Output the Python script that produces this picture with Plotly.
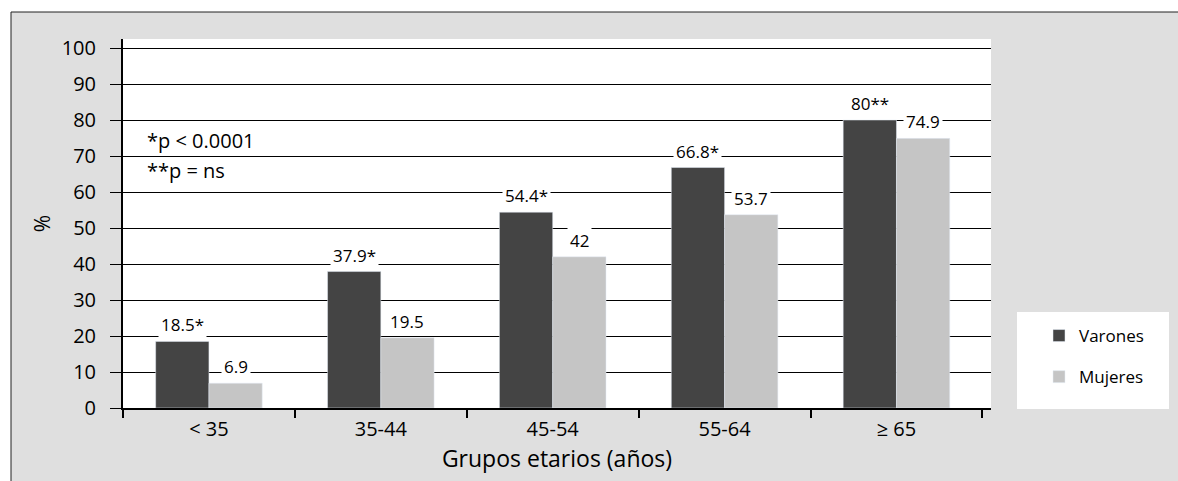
import plotly.graph_objects as go

# Datos
grupos = ['< 35', '35-44', '45-54', '55-64', '≥ 65']
varones = [18.5, 37.9, 54.4, 66.8, 80]
mujeres = [6.9, 19.5, 42, 53.7, 74.9]
sig_varones = ['*', '*', '*', '*', '**']
notas = ['*p < 0.0001', '**p = ns']

FUENTE = 'Open Sans'
GRIS_FONDO = '#dfdfdf'
OSCURO = '#444444'
CLARO = '#c5c5c5'

ANCHO, ALTO = 1178, 481
# area del grafico en pixeles: x 123..991, y 39..408
ML, MT = 123, 39
MR = ANCHO - 991
MB = ALTO - 408
W = ANCHO - ML - MR
H = ALTO - MT - MB


def px_x(p):
    # pixel -> coordenada paper
    return (p - ML) / W


def px_y(p):
    return (ALTO - MB - p) / H


fig = go.Figure()
fig.add_trace(go.Bar(x=grupos, y=varones, name='Varones', marker_color=OSCURO,
                     legendgroup='v'))
fig.add_trace(go.Bar(x=grupos, y=mujeres, name='Mujeres', marker_color=CLARO,
                     legendgroup='m'))

bargap = 0.38
desp = (1 - bargap) / 4

anots = []
for i, (v, m) in enumerate(zip(varones, mujeres)):
    anots.append(dict(x=i - desp, y=v, text=f'{v:g}{sig_varones[i]}',
                      xref='x', yref='y', showarrow=False, yanchor='bottom',
                      yshift=2, bgcolor='white', borderpad=2,
                      font=dict(size=17, color='black')))
    anots.append(dict(x=i + desp, y=m, text=f'{m:g}',
                      xref='x', yref='y', showarrow=False, yanchor='bottom',
                      yshift=2, bgcolor='white', borderpad=2,
                      font=dict(size=17, color='black')))

for k, t in enumerate(notas):
    anots.append(dict(x=px_x(145), y=px_y(140 + 31 * k), text=t,
                      xref='paper', yref='paper', showarrow=False,
                      xanchor='left', yanchor='middle',
                      font=dict(size=20, color='black')))

borde = dict(color='#222222', width=1)
formas = [
    # fondo gris
    dict(type='rect', xref='paper', yref='paper', layer='below',
         x0=px_x(11), x1=px_x(1300), y0=px_y(600), y1=px_y(12),
         fillcolor=GRIS_FONDO, line=dict(width=0)),
    # borde superior e izquierdo
    dict(type='line', xref='paper', yref='paper', layer='below',
         x0=px_x(11), x1=px_x(1300), y0=px_y(12), y1=px_y(12), line=borde),
    dict(type='line', xref='paper', yref='paper', layer='below',
         x0=px_x(11), x1=px_x(11), y0=px_y(12), y1=px_y(600), line=borde),
    # area del grafico
    dict(type='rect', xref='paper', yref='paper', layer='below',
         x0=0, x1=1, y0=0, y1=1, fillcolor='white', line=dict(width=0)),
    # caja de la leyenda
    dict(type='rect', xref='paper', yref='paper', layer='below',
         x0=px_x(1017), x1=px_x(1169), y0=px_y(409), y1=px_y(312),
         fillcolor='white', line=dict(width=0)),
]

fig.update_layout(
    width=ANCHO, height=ALTO,
    margin=dict(l=ML, r=MR, t=MT, b=MB),
    paper_bgcolor='white',
    plot_bgcolor='rgba(0,0,0,0)',
    font=dict(family=FUENTE, color='black'),
    barmode='group',
    bargap=bargap,
    bargroupgap=0,
    shapes=formas,
    annotations=anots,
    legend=dict(x=px_x(1039), y=px_y(318), xanchor='left', yanchor='top',
                bgcolor='rgba(0,0,0,0)', font=dict(size=17),
                traceorder='grouped', tracegroupgap=16),
    xaxis=dict(
        type='category', range=[-0.5, 4.55],
        showline=True, linewidth=2, linecolor='black',
        ticks='outside', tickson='boundaries', ticklen=8, tickwidth=2,
        tickcolor='black', showgrid=False,
        tickfont=dict(size=20), ticklabelstandoff=2,
        title=dict(text='Grupos etarios (años)', font=dict(size=23), standoff=8),
    ),
    yaxis=dict(
        range=[0, 102.5], dtick=10,
        showline=True, linewidth=2, linecolor='black',
        showgrid=True, gridcolor='black', gridwidth=1, zeroline=False,
        ticks='outside', ticklen=11, tickwidth=1, tickcolor='black',
        tickfont=dict(size=20), ticklabelstandoff=10,
        title=dict(text='%', font=dict(size=21), standoff=5),
    ),
)

# sin margen en el body para que el grafico ocupe toda la ventana
fig.write_html('out.html',
               config={'displayModeBar': False},
               post_script="document.body.style.margin='0';"
                           "document.body.style.overflow='hidden';")
